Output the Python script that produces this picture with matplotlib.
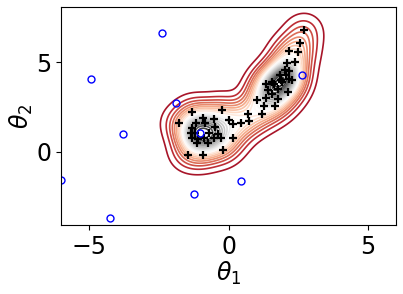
import numpy as np
import matplotlib
matplotlib.use('Agg')
import matplotlib.pyplot as plt

# posterior samples (black +)
samp_x = [2.72, 2.57, 2.15, 2.48, 2.08, 2.39, 2.01, 2.16, 1.84, 2.05,
          1.55, 1.89, 2.16, 2.28, 1.35, 1.62, 1.91, 1.42, 1.76, 2.13,
          1.55, 1.01, 1.33, 1.79, 1.27, 1.65, 0.71, 1.19, -0.24, 0.01,
          0.17, 0.44, 0.75, 0.15, -1.29, -1.76, -0.93, -0.53, -1.15, -0.85,
          -1.30, -0.50, -1.34, -1.19, -0.71, -0.36, -1.30, -1.11, -0.87, -0.53,
          -0.28, -1.14, -0.72, -1.46, -0.91, -0.19]
samp_y = [6.80, 6.08, 5.65, 5.54, 4.98, 5.00, 4.57, 4.53, 4.28, 4.26,
          3.92, 4.02, 4.09, 4.02, 3.81, 3.79, 3.87, 3.46, 3.50, 3.33,
          3.22, 2.88, 3.00, 2.94, 2.57, 2.57, 2.14, 2.14, 2.33, 1.78,
          1.56, 1.63, 1.74, 0.80, 2.23, 1.63, 1.90, 1.86, 1.60, 1.60,
          1.32, 1.38, 1.04, 1.08, 1.04, 1.00, 0.80, 0.71, 0.76, 0.80,
          0.76, 0.49, 0.49, -0.15, -0.15, 0.09]

# other points (blue circles)
pts_x = [-2.39, -4.91, -1.87, -3.77, -1.01, -5.99, -1.25, 0.44, -4.25, 2.63]
pts_y = [6.62, 4.09, 2.73, 1.02, 1.04, -1.56, -2.32, -1.64, -3.70, 4.28]

# gaussian kde of the samples for the contour lines
gx = np.linspace(-6, 6, 400)
gy = np.linspace(-4.07, 8.07, 400)
X, Y = np.meshgrid(gx, gy)
hx, hy = 0.42, 0.62
Z = np.zeros_like(X)
for a, b in zip(samp_x, samp_y):
    Z += np.exp(-0.5 * (((X - a) / hx) ** 2 + ((Y - b) / hy) ** 2))
Z /= len(samp_x) * 2 * np.pi * hx * hy
zmax = Z.max()
levels = np.linspace(0.033, 0.97, 21) * zmax

fig = plt.figure(figsize=(4.03, 2.94), dpi=100)
ax = fig.add_axes([0.1514, 0.2347, 0.8312, 0.7413])
ax.contour(X, Y, Z, levels=levels, cmap='RdGy', linewidths=1.2,
           vmin=-0.06 * zmax, vmax=zmax)
ax.plot(samp_x, samp_y, '+', color='k', ms=5.5, mew=1.6)
ax.plot(pts_x, pts_y, 'o', mfc='none', mec='b', ms=5, mew=1)
ax.set_xlim(-6, 6)
ax.set_ylim(-4.07, 8.07)
ax.set_xticks([-5, 0, 5])
ax.set_yticks([0, 5])
ax.tick_params(labelsize=17)
ax.set_xlabel(r'$\theta_1$', fontsize=17, labelpad=1)
ax.set_ylabel(r'$\theta_2$', fontsize=17, labelpad=1)
fig.savefig('out.png', dpi=100)
